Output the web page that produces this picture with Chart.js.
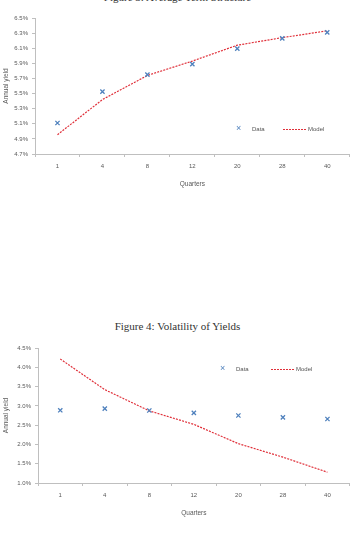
<!DOCTYPE html>
<html>
<head>
<meta charset="utf-8">
<script src="https://cdn.jsdelivr.net/npm/chart.js@4.4.0/dist/chart.umd.min.js"></script>
<style>
    body { margin: 0; background: #fff; width: 355px; height: 540px; position: relative; overflow: hidden; }
    .fig-title { position: absolute; left: 0; width: 355px; text-align: center; font-family: "Liberation Serif", serif; font-size: 11px; color: #333; line-height: 12px; }
    .wrap { position: absolute; left: 0; width: 355px; }
    .legend { position: absolute; font-family: "Liberation Sans", sans-serif; font-size: 6px; color: #555; line-height: 8px; }
    .legend .mark { position: absolute; color: #4F81BD; font-size: 9px; top: -1px; }
    .legend .dash { position: absolute; top: 4px; width: 24px; height: 1px;
        background: repeating-linear-gradient(to right, #E0303A 0, #E0303A 2px, transparent 2px, transparent 3px); }
    .legend span { position: absolute; }
</style>
</head>
<body>

<div class="fig-title" style="top:-9px;">Figure 3: Average Term Structure</div>
<div class="wrap" style="top:0; height:200px;"><canvas id="termChart"></canvas></div>
<div class="legend" style="left:236px; top:125px;">
    <span class="mark" style="left:0;">×</span><span style="left:16px;">Data</span>
    <div class="dash" style="left:47px;"></div><span style="left:72px;">Model</span>
</div>

<div class="fig-title" style="top:320px;">Figure 4: Volatility of Yields</div>
<div class="wrap" style="top:330px; height:200px;"><canvas id="volChart"></canvas></div>
<div class="legend" style="left:220px; top:365px;">
    <span class="mark" style="left:0;">×</span><span style="left:16px;">Data</span>
    <div class="dash" style="left:51px;"></div><span style="left:76px;">Model</span>
</div>

<script>
// Maturities in quarters
const quarters = ['1', '4', '8', '12', '20', '28', '40'];

// Figure 3: average yields (%)
const termData = [5.11, 5.525, 5.75, 5.89, 6.095, 6.23, 6.31];
const termModel = [4.955, 5.42, 5.74, 5.93, 6.14, 6.24, 6.33];

// Figure 4: volatility of yields (%)
const volData = [2.885, 2.93, 2.88, 2.82, 2.75, 2.70, 2.66];
const volModel = [4.215, 3.42, 2.87, 2.52, 2.02, 1.67, 1.28];

const axisColor = '#bfbfbf';
const textColor = '#595959';
const font = { family: 'Liberation Sans', size: 6 };

function makeChart(id, data, model, yMin, yMax, step, pad, yWidth, titleGap) {
    const ctx = document.getElementById(id).getContext('2d');
    return new Chart(ctx, {
        type: 'line',
        data: {
            labels: quarters,
            datasets: [
                {
                    label: 'Data',
                    data: data,
                    showLine: false,
                    pointStyle: 'crossRot',
                    pointRadius: 3,
                    pointBorderWidth: 1.3,
                    borderColor: '#4F81BD',
                    backgroundColor: '#4F81BD'
                },
                {
                    label: 'Model',
                    data: model,
                    borderColor: '#E0303A',
                    borderWidth: 1.2,
                    borderDash: [2, 1.2],
                    pointRadius: 0,
                    tension: 0
                }
            ]
        },
        options: {
            responsive: true,
            maintainAspectRatio: false,
            animation: false,
            layout: { padding: pad },
            plugins: {
                legend: { display: false },
                tooltip: { enabled: false }
            },
            scales: {
                x: {
                    offset: true,
                    grid: {
                        offset: true,
                        drawOnChartArea: false,
                        color: axisColor,
                        tickLength: 3
                    },
                    border: { color: axisColor },
                    ticks: { color: textColor, font: font, padding: 6, maxRotation: 0 },
                    title: { display: true, text: 'Quarters', color: textColor, font: { family: 'Liberation Sans', size: 6.5 }, padding: { top: titleGap } },
                    afterFit: scale => { scale.height = 38; }
                },
                y: {
                    min: yMin,
                    max: yMax,
                    grid: {
                        drawOnChartArea: false,
                        color: axisColor,
                        tickLength: 3
                    },
                    border: { color: axisColor },
                    ticks: {
                        stepSize: step,
                        color: textColor,
                        font: font,
                        padding: 4,
                        callback: v => v.toFixed(1) + '%'
                    },
                    title: { display: true, text: 'Annual yield', color: textColor, font: { family: 'Liberation Sans', size: 6.5 }, padding: 0 },
                    afterFit: scale => { scale.width = yWidth; }
                }
            }
        }
    });
}

makeChart('termChart', termData, termModel, 4.7, 6.5, 0.2, { top: 18, right: 2, left: 2, bottom: 8 }, 33, 4);
makeChart('volChart', volData, volModel, 1.0, 4.5, 0.5, { top: 18, right: 3, left: 2, bottom: 9 }, 36, 3);
</script>
</body>
</html>
